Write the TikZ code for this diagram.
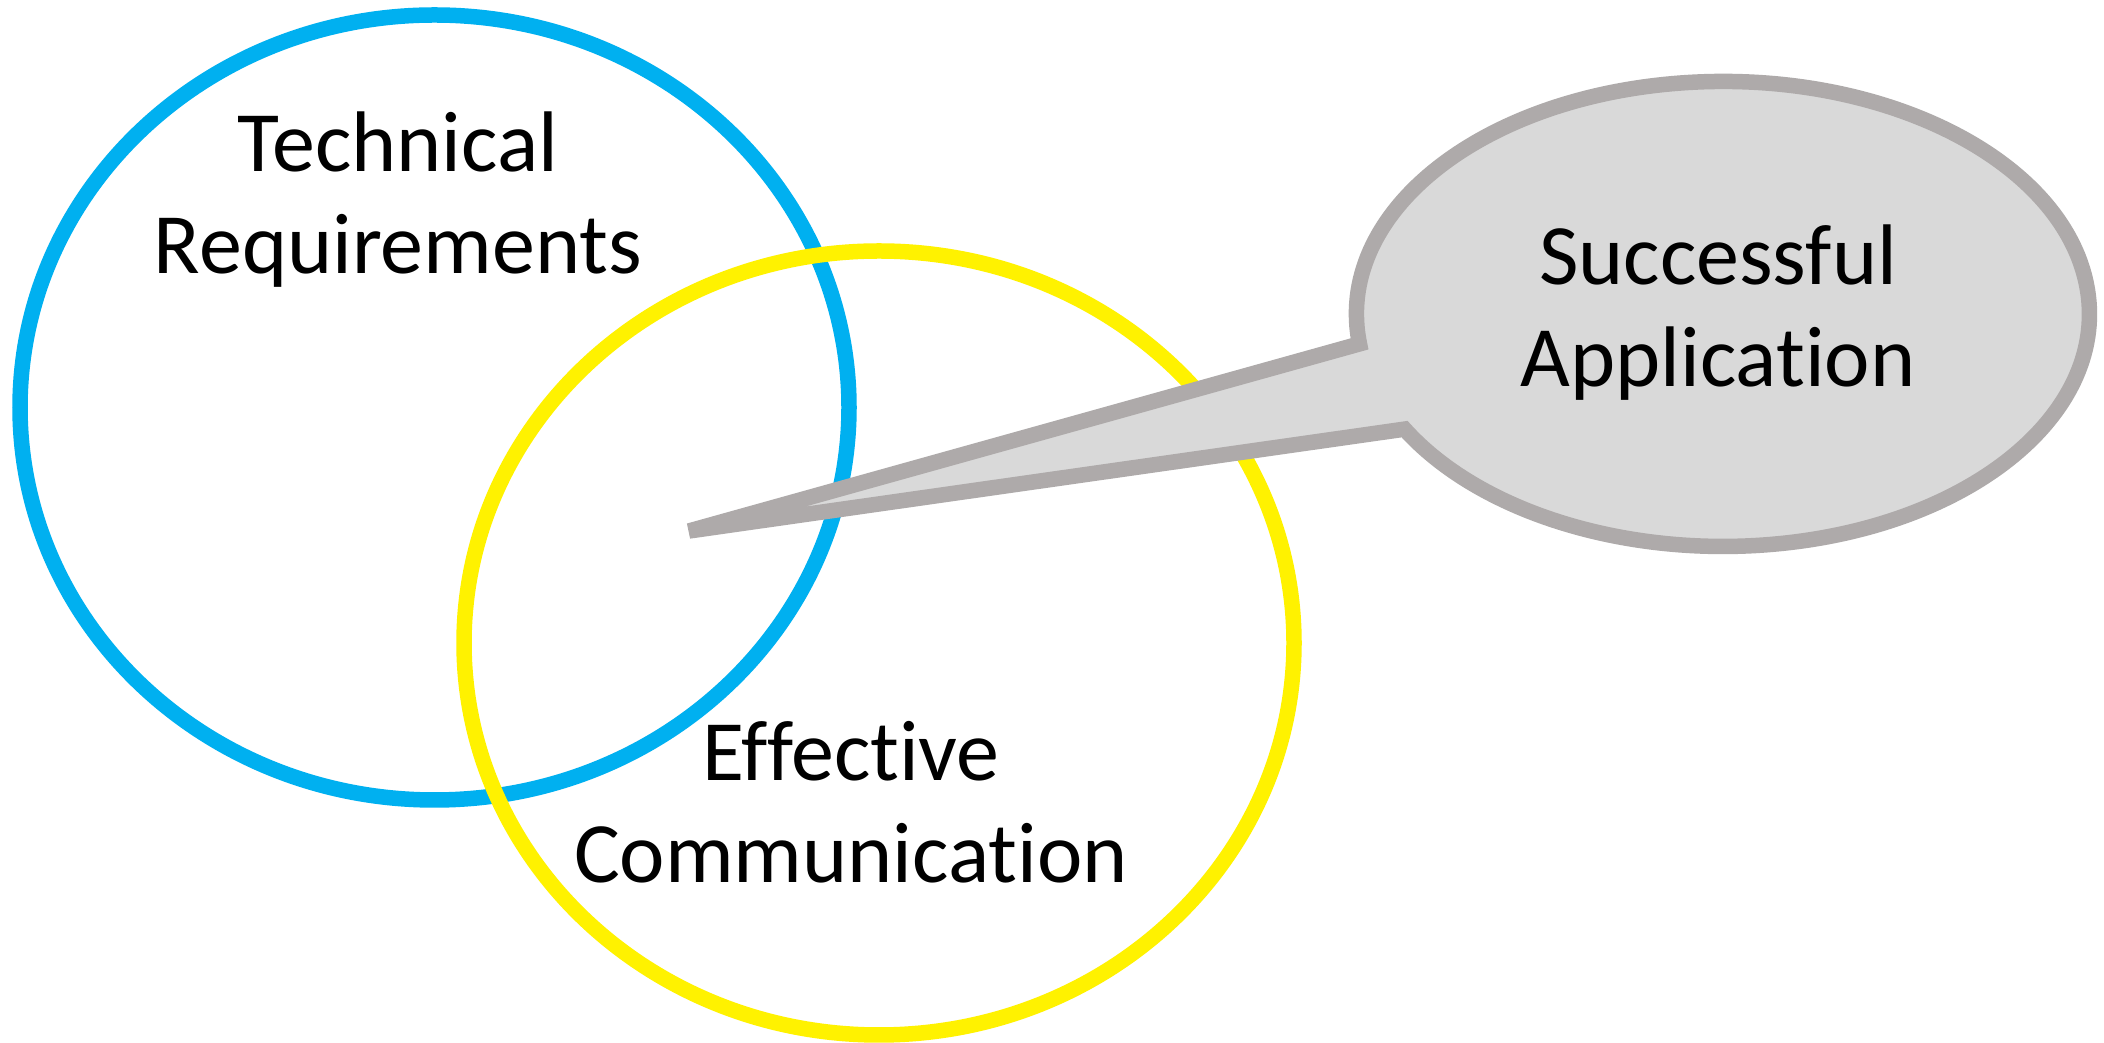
\documentclass[tikz,border=0pt]{standalone}
\usepackage{fontspec}
\setmainfont{Carlito}[RawFeature=-liga]
\definecolor{ringblue}{HTML}{00B0F0}
\definecolor{ringyellow}{HTML}{FFF200}
\definecolor{calloutline}{HTML}{AEAAAA}
\definecolor{calloutfill}{HTML}{D9D9D9}
\begin{document}
\begin{tikzpicture}[x=1pt,y=1pt,
  ring/.style={line width=15.5pt},
  callout/.style={draw=calloutline,fill=calloutfill,line width=15.5pt},
  label/.style={font=\fontsize{86}{102.5}\selectfont,align=center,anchor=base,inner sep=0pt}]
  \useasboundingbox (0,0) rectangle (2104,1043);
  \fill[white] (0,0) rectangle (2104,1043);
  % the two overlapping rings
  \draw[ring,ringblue] (434.5,635.5) ellipse [x radius=414.5pt, y radius=392.5pt];
  \draw[ring,ringyellow] (879,400) ellipse [x radius=415pt, y radius=392pt];
  % speech-bubble callout pointing into the overlap
  \coordinate (tip) at (689,512);
  \coordinate (upjoin) at (1359.5,699.1);
  \draw[callout] (tip) -- (upjoin)
    arc[start angle=187.4, end angle=-150.3, x radius=366.5pt, y radius=232.5pt] -- cycle;
  % labels (anchored on the baseline of the last line)
  \node[label] (tech) at (398,769) {Technical\\Requirements};
  \node[label] (comm) at (851,160) {Effective\\Communication};
  \node[label] (succ) at (1718,656) {Successful\\Application};
\end{tikzpicture}
\end{document}
